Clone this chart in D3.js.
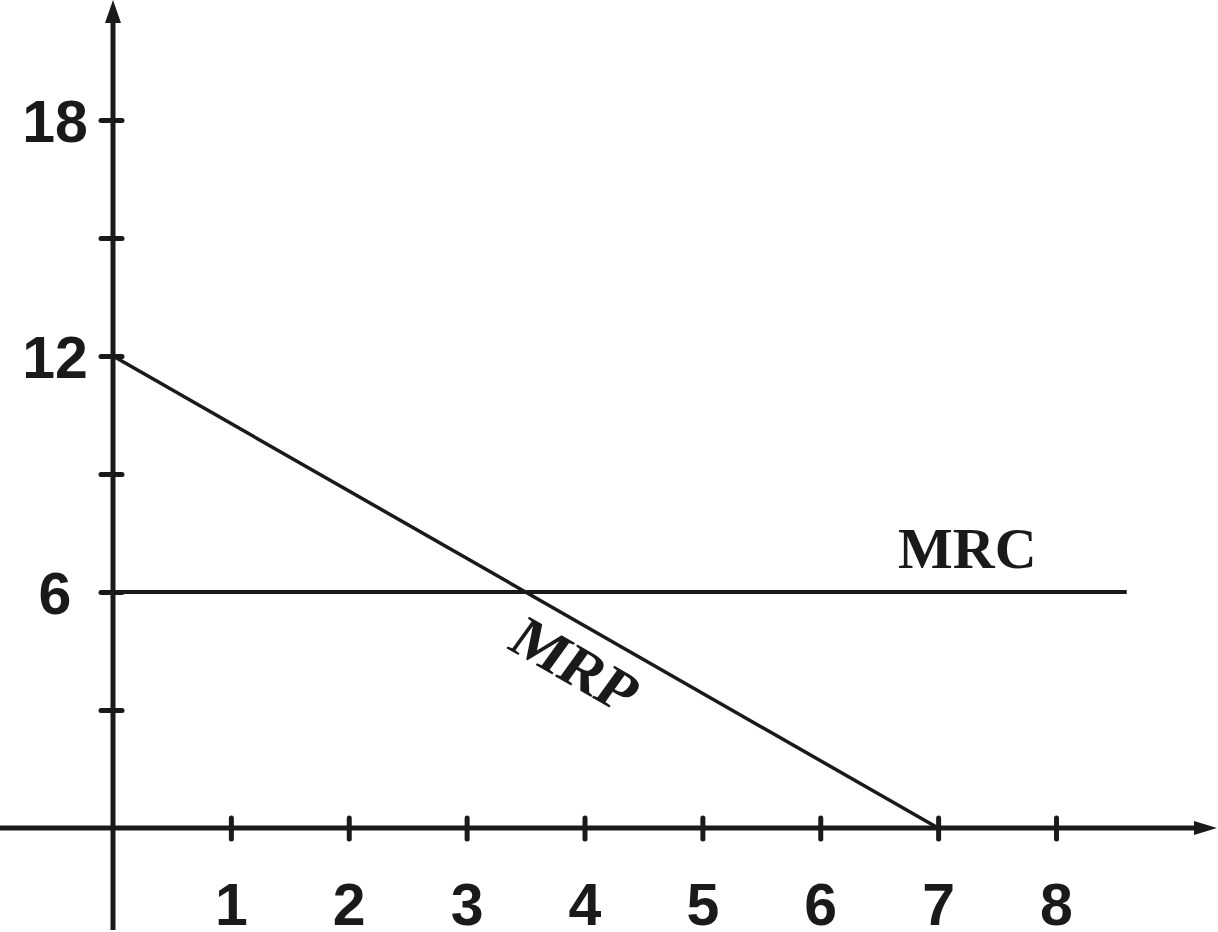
<!DOCTYPE html>
<html>
<head>
<meta charset="utf-8">
<script src="https://cdn.jsdelivr.net/npm/d3@7"></script>
<style>
html,body{margin:0;padding:0;background:#fff;}
svg{display:block;}
</style>
</head>
<body>
<svg id="chart" width="1218" height="932"></svg>
<script>
// ---- data ----
const xTicks = [1, 2, 3, 4, 5, 6, 7, 8];
const yTicks = [3, 6, 9, 12, 15, 18];
const yTickLabels = {6: "6", 12: "12", 18: "18"};
const mrpX = [0, 7];
const mrpY = [12, 0];
const mrcX = [0, 8.6];
const mrcY = [6, 6];
const curveLabels = ["MRC", "MRP"];

// ---- layout ----
const W = 1218, H = 932;
const ink = "#1a1a1a";
const x = d3.scaleLinear().domain([0, 8]).range([113, 1056]);
const y = d3.scaleLinear().domain([0, 18]).range([828, 120]);

const svg = d3.select("#chart");

// axis lines
svg.append("line").attr("x1", 0).attr("x2", W - 20).attr("y1", y(0)).attr("y2", y(0))
  .attr("stroke", ink).attr("stroke-width", 5);
svg.append("line").attr("x1", x(0)).attr("x2", x(0)).attr("y1", H - 2).attr("y2", 18)
  .attr("stroke", ink).attr("stroke-width", 5);
// arrows
svg.append("path").attr("d", `M${W - 1},${y(0)} L${W - 24},${y(0) - 7} L${W - 24},${y(0) + 7} Z`).attr("fill", ink);
svg.append("path").attr("d", `M${x(0)},0 L${x(0) - 8},23 L${x(0) + 8},23 Z`).attr("fill", ink);

const sans = "'Liberation Sans', Arial, sans-serif";

// x axis ticks
const xAxis = svg.append("g").attr("transform", `translate(0,${y(0)})`)
  .call(d3.axisBottom(x).tickValues(xTicks).tickFormat(d3.format("d")));
xAxis.select(".domain").remove();
xAxis.selectAll(".tick line").attr("y1", -10).attr("y2", 11)
  .attr("stroke", ink).attr("stroke-width", 5).attr("stroke-linecap", "round");
xAxis.selectAll(".tick text").attr("y", 97).attr("dy", null)
  .attr("fill", ink).attr("font-family", sans)
  .attr("font-weight", "bold").attr("font-size", 59);

// y axis ticks
const yAxis = svg.append("g").attr("transform", `translate(${x(0)},0)`)
  .call(d3.axisLeft(y).tickValues(yTicks).tickFormat(d => yTickLabels[d] || ""));
yAxis.select(".domain").remove();
yAxis.selectAll(".tick line").attr("x1", -12).attr("x2", 9)
  .attr("stroke", ink).attr("stroke-width", 5).attr("stroke-linecap", "round");
yAxis.selectAll(".tick text").attr("x", -58).attr("dy", "0.36em")
  .attr("text-anchor", "middle")
  .attr("fill", ink).attr("font-family", sans)
  .attr("font-weight", "bold").attr("font-size", 59);

// curves
const line = d3.line().x(d => x(d[0])).y(d => y(d[1]));
svg.append("path").datum(d3.zip(mrcX, mrcY)).attr("d", line)
  .attr("fill", "none").attr("stroke", ink).attr("stroke-width", 4);
svg.append("path").datum(d3.zip(mrpX, mrpY)).attr("d", line)
  .attr("fill", "none").attr("stroke", ink).attr("stroke-width", 3.5);

// labels
const serif = "'Liberation Serif', 'Times New Roman', serif";
svg.append("text").attr("x", x(6.66)).attr("y", y(6.6)).text(curveLabels[0])
  .attr("fill", ink).attr("font-family", serif).attr("font-weight", "bold").attr("font-size", 58);
const ang = Math.atan2(y(0) - y(12), x(7) - x(0)) * 180 / Math.PI;
const lx = x(3.33), ly = y(4.58);
svg.append("text").attr("transform", `translate(${lx},${ly}) rotate(${ang}) skewX(-6)`).text(curveLabels[1])
  .attr("fill", ink).attr("font-family", serif).attr("font-weight", "bold").attr("font-size", 59);
</script>
</body>
</html>
